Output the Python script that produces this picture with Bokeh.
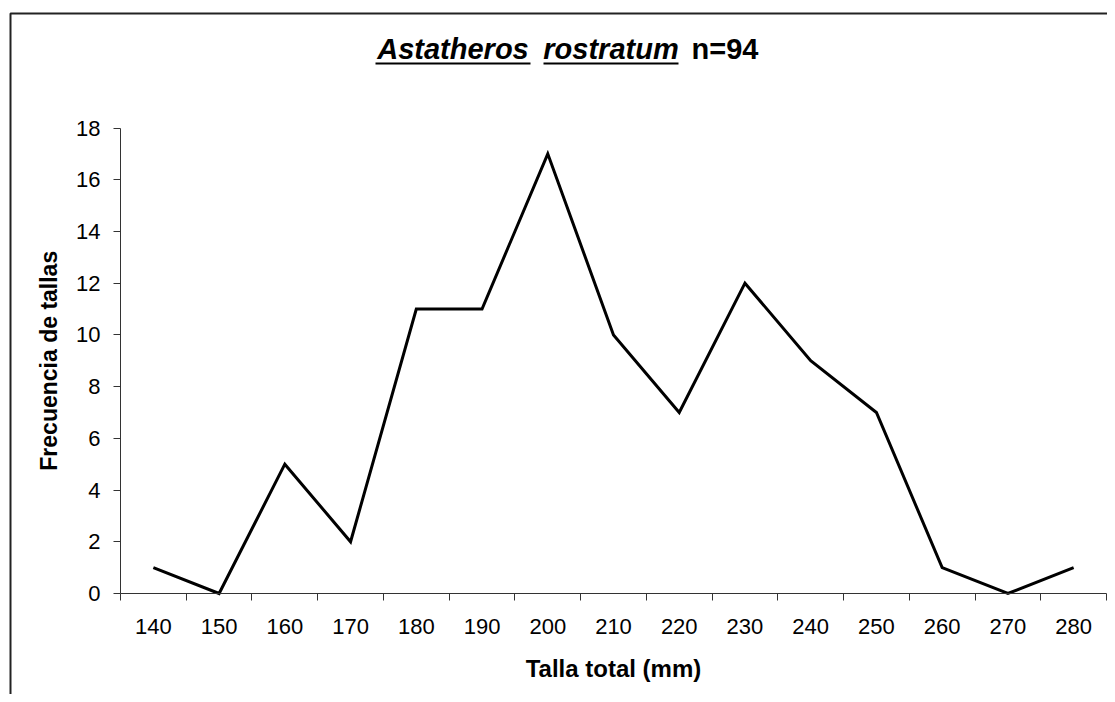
import math
from bokeh.plotting import figure
from bokeh.models import FixedTicker, Label, BoxAnnotation, Range1d
from bokeh.embed import file_html
from bokeh.resources import INLINE

# Data
tallas = [140, 150, 160, 170, 180, 190, 200, 210, 220, 230, 240, 250, 260, 270, 280]
frecuencia = [1, 0, 5, 2, 11, 11, 17, 10, 7, 12, 9, 7, 1, 0, 1]
y_ticks = [0, 2, 4, 6, 8, 10, 12, 14, 16, 18]
title_parts = ["Astatheros", "rostratum", "n=94"]
x_label = "Talla total (mm)"
y_label = "Frecuencia de tallas"

FONT = "Liberation Sans"
AX = "#333333"
W, H = 1107, 694

half = (tallas[1] - tallas[0]) / 2
boundaries = [t - half for t in tallas] + [tallas[-1] + half]
x0, x1 = tallas[0] - half, tallas[-1] + half
y0, y1 = 0, y_ticks[-1]

# plot-area placement in pixels (the frame fills the whole canvas)
PL, PR, PT, PB = 120, 1106, 127.5, 593
kx = (x1 - x0) / (PR - PL)
ky = (y1 - y0) / (PB - PT)

p = figure(width=W, height=H, output_backend="svg", toolbar_location=None,
           x_range=Range1d(x0 - PL * kx, x1 + (W - PR) * kx),
           y_range=Range1d(y0 - (H - PB) * ky, y1 + PT * ky),
           min_border=0)
p.outline_line_color = None
p.xgrid.visible = False
p.ygrid.visible = False
p.background_fill_color = "white"
p.border_fill_color = "white"

p.line(tallas, frecuencia, line_color="black", line_width=3, line_join="miter")

xa = p.xaxis[0]
xa.fixed_location = y0
xa.bounds = (x0, x1)
xa.ticker = FixedTicker(ticks=tallas, minor_ticks=boundaries)
xa.major_tick_out = 0
xa.major_tick_in = 0
xa.minor_tick_out = 7
xa.minor_tick_in = 0
xa.minor_tick_line_color = AX
xa.axis_line_color = AX
xa.major_label_text_font = FONT
xa.major_label_text_font_size = "22px"
xa.major_label_text_color = "black"
xa.major_label_standoff = 18

ya = p.yaxis[0]
ya.fixed_location = x0
ya.bounds = (y0, y1)
ya.ticker = FixedTicker(ticks=y_ticks, minor_ticks=[])
ya.major_tick_out = 7
ya.major_tick_in = 0
ya.major_tick_line_color = AX
ya.axis_line_color = AX
ya.major_label_text_font = FONT
ya.major_label_text_font_size = "22px"
ya.major_label_text_color = "black"
ya.major_label_standoff = 13

def sy(page_y):
    return H - page_y

# axis titles
p.add_layout(Label(x=(PL + PR) / 2, y=sy(668), x_units="screen", y_units="screen",
                   text=x_label, text_font=FONT, text_font_size="24px",
                   text_font_style="bold", text_align="center",
                   text_baseline="alphabetic", text_color="black"))
p.add_layout(Label(x=48, y=sy((PT + PB) / 2), x_units="screen", y_units="screen",
                   text=y_label, text_font=FONT, text_font_size="23px", angle=math.pi / 2,
                   text_font_style="bold", text_align="center",
                   text_baseline="alphabetic", text_color="black"))

# chart title words
title_x = [452.5, 610.5, 724.5]
styles = ["bold italic", "bold italic", "bold"]
for txt, x, st in zip(title_parts, title_x, styles):
    p.add_layout(Label(x=x, y=sy(48), x_units="screen", y_units="screen", text=txt,
                       text_font=FONT, text_font_size="29px", text_font_style=st,
                       text_align="center", text_baseline="alphabetic", text_color="black"))

# underlines of the italic species name
for l, r in [(375, 530), (543, 678)]:
    p.add_layout(BoxAnnotation(left=l, right=r, top=sy(62), bottom=sy(64),
                               left_units="screen", right_units="screen",
                               top_units="screen", bottom_units="screen",
                               fill_color="black", fill_alpha=1, line_color=None))

# outer chart border (continues beyond the visible page)
p.add_layout(BoxAnnotation(left=10, right=W + 30, top=sy(13), bottom=-30,
                           left_units="screen", right_units="screen",
                           top_units="screen", bottom_units="screen",
                           fill_alpha=0, line_color="#222222", line_width=2, line_alpha=1))

open("out.html", "w").write(file_html(p, INLINE))
